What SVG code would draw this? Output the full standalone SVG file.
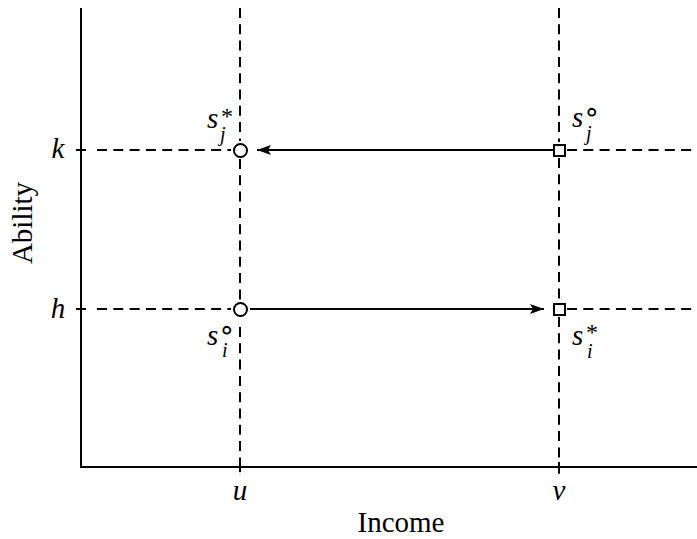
<svg xmlns="http://www.w3.org/2000/svg" width="697" height="539" viewBox="0 0 697 539">
<style>
.ax{stroke:#000;stroke-width:2;fill:none}
.dash{stroke:#000;stroke-width:2;fill:none;stroke-dasharray:10 6.3}
.arr{stroke:#000;stroke-width:2;fill:none}
.node{stroke:#000;stroke-width:2;fill:#fff}
</style>
<defs>
<marker id="ah" viewBox="0 0 14 10" refX="14" refY="5" markerWidth="14" markerHeight="10" markerUnits="userSpaceOnUse" orient="auto">
<path d="M0,0 L14,5 L0,10 L3,5 Z" fill="#000"/>
</marker>
</defs>
<rect width="697" height="539" fill="#fff"/>
<g id="axes">
<line class="ax" x1="81" y1="8" x2="81" y2="468"/>
<line class="ax" x1="80" y1="467" x2="697" y2="467"/>
<line class="ax" x1="76" y1="150" x2="86" y2="150"/>
<line class="ax" x1="76" y1="309" x2="86" y2="309"/>
<line class="ax" x1="240" y1="462" x2="240" y2="472"/>
<line class="ax" x1="559" y1="462" x2="559" y2="472"/>
<text font-family="Liberation Serif" style="font-family:'Liberation Serif',serif" font-size="29" x="401" y="532" text-anchor="middle">Income</text>
<text font-family="Liberation Serif" style="font-family:'Liberation Serif',serif" font-size="29" transform="translate(32,223) rotate(-90)" text-anchor="middle">Ability</text>
<text font-family="Liberation Serif" style="font-family:'Liberation Serif',serif;font-style:italic" font-size="29" x="58" y="158" text-anchor="middle">k</text>
<text font-family="Liberation Serif" style="font-family:'Liberation Serif',serif;font-style:italic" font-size="29" x="58" y="318" text-anchor="middle">h</text>
<text font-family="Liberation Serif" style="font-family:'Liberation Serif',serif;font-style:italic" font-size="29" x="240" y="500" text-anchor="middle">u</text>
<text font-family="Liberation Serif" style="font-family:'Liberation Serif',serif;font-style:italic" font-size="29" x="559" y="500" text-anchor="middle">v</text>
</g>
<g id="connectors">
<line class="dash" x1="97" y1="150" x2="231" y2="150"/>
<line class="dash" x1="567" y1="150" x2="697" y2="150"/>
<line class="dash" x1="97" y1="309" x2="231" y2="309"/>
<line class="dash" x1="567" y1="309" x2="697" y2="309"/>
<line class="dash" x1="240" y1="8" x2="240" y2="141"/>
<line class="dash" x1="240" y1="159" x2="240" y2="300"/>
<line class="dash" x1="240" y1="327" x2="240" y2="474"/>
<line class="dash" x1="559" y1="8" x2="559" y2="142"/>
<line class="dash" x1="559" y1="158" x2="559" y2="301"/>
<line class="dash" x1="559" y1="317" x2="559" y2="474"/>
<line class="arr" x1="553" y1="150" x2="257" y2="150" marker-end="url(#ah)"/>
<line class="arr" x1="250" y1="309" x2="544" y2="309" marker-end="url(#ah)"/>
</g>
<g id="sj-star">
<circle class="node" cx="240.5" cy="150.5" r="6.5"/>
<text font-family="Liberation Serif" style="font-family:'Liberation Serif',serif;font-style:italic" font-size="29" x="207" y="128">s<tspan style="font-style:normal" font-size="24" x="221" y="124">*</tspan><tspan font-size="20" x="220" y="141">j</tspan></text>
</g>
<g id="si-circ">
<circle class="node" cx="240.5" cy="309.5" r="6.5"/>
<text font-family="Liberation Serif" style="font-family:'Liberation Serif',serif;font-style:italic" font-size="29" x="207" y="345">s<tspan style="font-family:'DejaVu Sans',sans-serif;font-style:normal" font-size="28" x="218" y="339">∘</tspan><tspan font-size="20" x="222" y="357">i</tspan></text>
</g>
<g id="sj-circ">
<rect class="node" x="554" y="145" width="11" height="11"/>
<text font-family="Liberation Serif" style="font-family:'Liberation Serif',serif;font-style:italic" font-size="29" x="572" y="127">s<tspan style="font-family:'DejaVu Sans',sans-serif;font-style:normal" font-size="28" x="583" y="121">∘</tspan><tspan font-size="20" x="586" y="140">j</tspan></text>
</g>
<g id="si-star">
<rect class="node" x="554" y="304" width="11" height="11"/>
<text font-family="Liberation Serif" style="font-family:'Liberation Serif',serif;font-style:italic" font-size="29" x="572" y="345">s<tspan style="font-style:normal" font-size="24" x="586" y="340">*</tspan><tspan font-size="20" x="587" y="358">i</tspan></text>
</g>
</svg>
